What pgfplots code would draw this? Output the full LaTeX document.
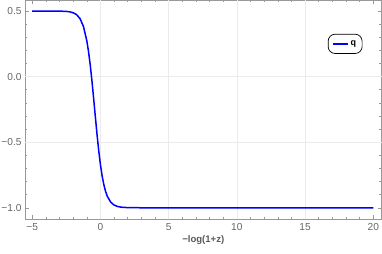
\documentclass[border=0pt]{standalone}
\usepackage{pgfplots}
\pgfplotsset{compat=1.18}
\usepackage{fontspec}
\setmainfont{Liberation Sans}
\begin{document}
\begin{tikzpicture}
\begin{axis}[
 scale only axis, width=356.5bp, height=219.3bp,
 xmin=-5.53, xmax=20.6, ymin=-1.088, ymax=0.584,
 xtick={-5,0,5,10,15,20}, xticklabels={−5,0,5,10,15,20},
 minor x tick num=4,
 ytick={-1,-0.5,0,0.5}, yticklabels={−1.0,−0.5,0.0,0.5},
 minor y tick num=4,
 tick pos=both, tick align=inside,
 major tick length=4bp, minor tick length=2.3bp,
 axis line style={black!40, line width=0.6bp},
 tick style={black!40, line width=0.5bp},
 extra x ticks={0,5,10,15}, extra x tick labels={},
 extra y ticks={0,-0.5}, extra y tick labels={},
 extra tick style={grid=major, major tick length=0pt, major grid style={black!8, line width=0.7bp}},
 ticklabel style={font=\fontsize{10.2}{11}\selectfont, text=black!60},
 xticklabel style={yshift=-0.5bp},
 yticklabel style={xshift=0bp},
 xlabel={\textbf{−log(1+z)}},
 xlabel style={font=\fontsize{9.6}{10}\selectfont, text=black!65, yshift=2bp},
 legend style={at={(rel axis cs:0.898,0.80)}, anchor=center, draw=black, line width=0.7bp,
   rounded corners=7bp, font=\bfseries\fontsize{9}{10}\selectfont, inner xsep=4bp, inner ysep=4.5bp},
 legend image code/.code={\draw[#1] (0bp,0bp) -- (15bp,0bp);},
]
\addplot[blue, line width=1.5bp] coordinates {
(-5,0.5) (-4,0.4999) (-3,0.4993) (-2.5,0.4970) (-2.25,0.4938) (-2,0.4868)
(-1.75,0.4724) (-1.5,0.4428) (-1.25,0.3838) (-1,0.2736) (-0.875,0.1917)
(-0.75,0.0898) (-0.625,-0.0308) (-0.5,-0.1652) (-0.375,-0.3054) (-0.25,-0.4417)
(-0.125,-0.5658) (0,-0.6719) (0.125,-0.7580) (0.25,-0.8247) (0.375,-0.8750)
(0.5,-0.9118) (0.75,-0.9570) (1,-0.9794) (1.25,-0.9902) (1.5,-0.9953)
(2,-0.9990) (2.5,-0.9998) (3,-1.0) (20,-1.0)
};
\addlegendentry{q}
\end{axis}
\pgfresetboundingbox
\path[use as bounding box] ([xshift=-25bp,yshift=-34.7bp]current axis.south west) rectangle ([xshift=0.5bp]current axis.north east);
\end{tikzpicture}
\end{document}
